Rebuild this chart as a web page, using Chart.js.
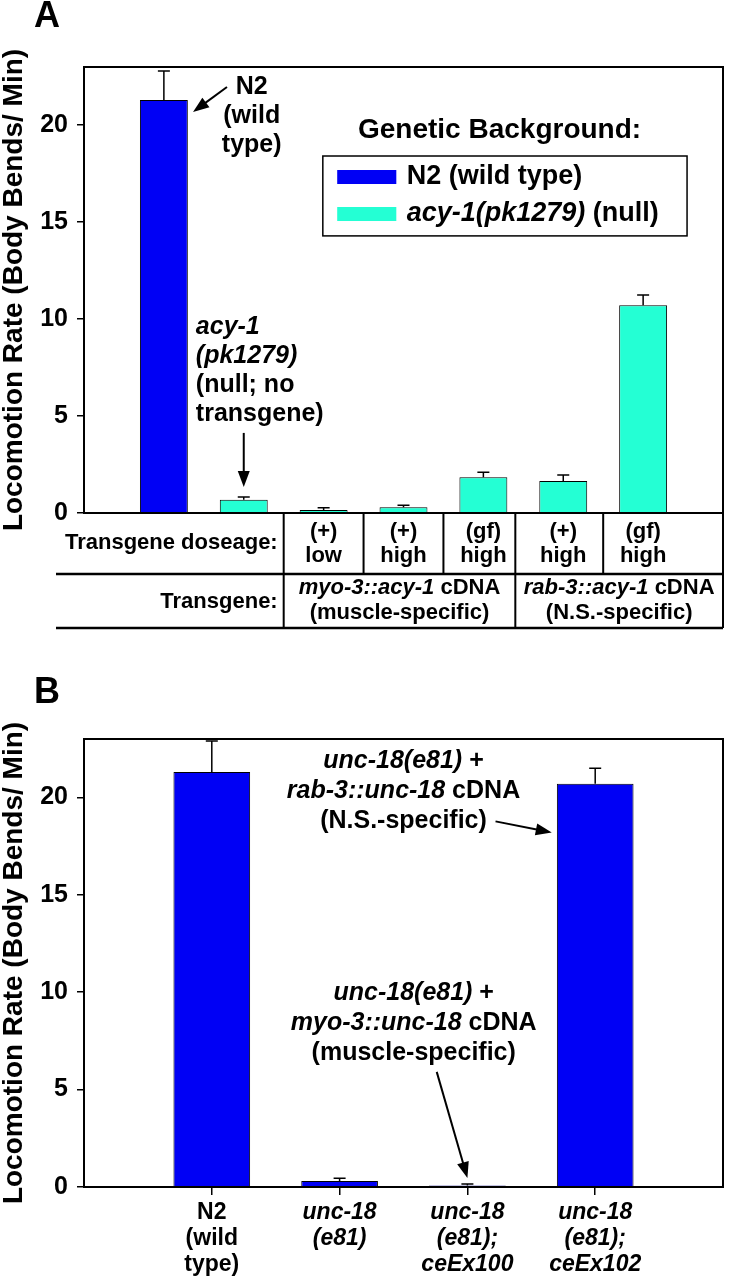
<!DOCTYPE html>
<html>
<head>
<meta charset="utf-8">
<script src="https://cdn.jsdelivr.net/npm/chart.js@4.4.1/dist/chart.umd.min.js"></script>
<style>
  body { margin: 0; background: #fff; }
  #wrap { position: relative; width: 731px; height: 1280px; }
  canvas { position: absolute; left: 0; }
  #chartA { top: 0; }
  #chartB { top: 650px; }
</style>
</head>
<body>
<div id="wrap">
  <canvas id="chartA" width="731" height="650" style="width:731px;height:650px"></canvas>
  <canvas id="chartB" width="731" height="630" style="width:731px;height:630px"></canvas>
</div>
<script>
const FONT = "'Liberation Sans', Arial, Helvetica, sans-serif";
const BLUE = '#0000f5';
const TEAL = '#24ffd4';

// --- data, panel A ---
const groupA = ['N2', 'acy', 'acy', 'acy', 'acy', 'acy', 'acy'];
const meanA = [21.3, 0.68, 0.15, 0.30, 1.85, 1.65, 10.72];
const semA = [1.5, 0.14, 0.12, 0.10, 0.25, 0.31, 0.52];
const doseTop = ['', '', '(+)', '(+)', '(gf)', '(+)', '(gf)'];
const doseBottom = ['', '', 'low', 'high', 'high', 'high', 'high'];
const transgeneName = ['myo-3::acy-1', 'rab-3::acy-1'];
const transgeneNote = ['(muscle-specific)', '(N.S.-specific)'];

// --- data, panel B ---
const meanB = [21.3, 0.31, 0.08, 20.7];
const semB = [1.6, 0.14, 0.07, 0.8];
const labelsB = [['N2', '(wild', 'type)'], ['unc-18', '(e81)'], ['unc-18', '(e81);', 'ceEx100'], ['unc-18', '(e81);', 'ceEx102']];

const yTicks = [0, 5, 10, 15, 20];
const yTitle = 'Locomotion Rate (Body Bends/ Min)';

Chart.defaults.color = '#000';
Chart.defaults.font.family = FONT;

function font(size, italic) {
  return (italic ? 'italic ' : '') + 'bold ' + size + 'px ' + FONT;
}

// draws a line made of [text, italic] pieces
function drawRuns(ctx, runs, x, y, align, size) {
  let total = 0;
  const widths = runs.map(r => {
    ctx.font = font(size, r[1]);
    const w = ctx.measureText(r[0]).width;
    total += w;
    return w;
  });
  let cx = align === 'center' ? x - total / 2 : align === 'right' ? x - total : x;
  ctx.textAlign = 'left';
  ctx.textBaseline = 'middle';
  runs.forEach((r, i) => {
    ctx.font = font(size, r[1]);
    ctx.fillText(r[0], cx, y);
    cx += widths[i];
  });
}

function arrow(ctx, x1, y1, x2, y2) {
  const a = Math.atan2(y2 - y1, x2 - x1);
  const len = 16, half = 6;
  ctx.beginPath();
  ctx.moveTo(x1, y1);
  ctx.lineTo(x2 - Math.cos(a) * len * 0.8, y2 - Math.sin(a) * len * 0.8);
  ctx.stroke();
  ctx.beginPath();
  ctx.moveTo(x2, y2);
  ctx.lineTo(x2 - Math.cos(a) * len + Math.sin(a) * half, y2 - Math.sin(a) * len - Math.cos(a) * half);
  ctx.lineTo(x2 - Math.cos(a) * len - Math.sin(a) * half, y2 - Math.sin(a) * len + Math.cos(a) * half);
  ctx.closePath();
  ctx.fill();
}

const errorBars = {
  id: 'errorBars',
  afterDatasetsDraw(chart) {
    const { ctx } = chart;
    const y = chart.scales.y;
    ctx.save();
    ctx.strokeStyle = '#000';
    ctx.lineWidth = 1.5;
    chart.data.datasets.forEach((ds, di) => {
      chart.getDatasetMeta(di).data.forEach((bar, i) => {
        const top = y.getPixelForValue(ds.data[i].y + ds.errors[i]);
        ctx.beginPath();
        ctx.moveTo(bar.x, bar.y);
        ctx.lineTo(bar.x, top);
        ctx.moveTo(bar.x - 6, top);
        ctx.lineTo(bar.x + 6, top);
        ctx.stroke();
      });
    });
    ctx.restore();
  }
};

const frame = {
  id: 'frame',
  afterDraw(chart) {
    const { ctx, chartArea: a } = chart;
    ctx.save();
    ctx.strokeStyle = '#000';
    ctx.lineWidth = 2;
    ctx.strokeRect(a.left, a.top, a.right - a.left, a.bottom - a.top);
    ctx.restore();
  }
};

// text notes and arrows placed in data units
function notes(letter, letterY, texts, arrows) {
  return {
    id: 'notes',
    afterDraw(chart) {
      const { ctx } = chart;
      const x = chart.scales.x, y = chart.scales.y;
      ctx.save();
      ctx.fillStyle = '#000';
      ctx.strokeStyle = '#000';
      ctx.lineWidth = 2;
      drawRuns(ctx, [[letter, 0]], 47, letterY, 'center', 36);
      texts.forEach(t => {
        const px = x.getPixelForValue(t.x);
        let py = y.getPixelForValue(t.y);
        t.lines.forEach(line => {
          drawRuns(ctx, line, px, py, t.align, t.size || 25);
          py += t.gap || 29;
        });
      });
      arrows.forEach(a => {
        arrow(ctx, x.getPixelForValue(a[0]), y.getPixelForValue(a[1]),
                   x.getPixelForValue(a[2]), y.getPixelForValue(a[3]));
      });
      ctx.restore();
    }
  };
}

const legendBox = {
  id: 'legendBox',
  afterDraw(chart) {
    const { ctx } = chart;
    const x = chart.scales.x, y = chart.scales.y;
    const l = x.getPixelForValue(2.99), r = x.getPixelForValue(7.55);
    const t = y.getPixelForValue(18.41), b = y.getPixelForValue(14.29);
    ctx.save();
    ctx.fillStyle = '#000';
    drawRuns(ctx, [['Genetic Background:', 0]], x.getPixelForValue(3.43), y.getPixelForValue(19.75), 'left', 28);
    ctx.strokeStyle = '#000';
    ctx.lineWidth = 1.5;
    ctx.strokeRect(l, t, r - l, b - t);
    chart.data.datasets.forEach((ds, i) => {
      const cy = t + 21 + i * 37;
      ctx.fillStyle = ds.backgroundColor;
      ctx.fillRect(x.getPixelForValue(3.17), cy - 7, x.getPixelForValue(3.91) - x.getPixelForValue(3.17), 14);
      ctx.fillStyle = '#000';
      drawRuns(ctx, ds.labelRuns, x.getPixelForValue(4.04), cy, 'left', 27);
    });
    ctx.restore();
  }
};

// transgene table under panel A
const table = {
  id: 'table',
  afterDraw(chart) {
    const { ctx, chartArea: a } = chart;
    const x = chart.scales.x;
    const edges = [2.5, 3.5, 4.5, 5.4, 6.5, 8].map(v => x.getPixelForValue(v));
    const b = a.bottom, left = a.left - 28;
    ctx.save();
    ctx.strokeStyle = '#000';
    ctx.fillStyle = '#000';
    ctx.lineWidth = 2;
    ctx.beginPath();
    edges.forEach((ex, i) => {
      const full = i === 0 || i === 3 || i === 5;
      ctx.moveTo(ex, b);
      ctx.lineTo(ex, b + (full ? 115 : 61));
    });
    ctx.stroke();
    ctx.lineWidth = 2.5;
    ctx.beginPath();
    ctx.moveTo(left, b + 61); ctx.lineTo(a.right, b + 61);
    ctx.moveTo(left, b + 115); ctx.lineTo(a.right, b + 115);
    ctx.stroke();
    drawRuns(ctx, [['Transgene doseage:', 0]], edges[0] - 6, b + 30, 'right', 22);
    drawRuns(ctx, [['Transgene:', 0]], edges[0] - 6, b + 89, 'right', 22);
    doseTop.forEach((d, i) => {
      if (!d) return;
      const cx = x.getPixelForValue(i + 1);
      drawRuns(ctx, [[d, 0]], cx, b + 19, 'center', 22);
      drawRuns(ctx, [[doseBottom[i], 0]], cx, b + 43, 'center', 22);
    });
    [[edges[0], edges[3]], [edges[3], edges[5]]].forEach((span, i) => {
      const cx = (span[0] + span[1]) / 2;
      drawRuns(ctx, [[transgeneName[i], 1], [' cDNA', 0]], cx, b + 75, 'center', 22);
      drawRuns(ctx, [[transgeneNote[i], 0]], cx, b + 100, 'center', 22);
    });
    ctx.restore();
  }
};

function yScale() {
  return {
    min: 0,
    max: 23,
    afterBuildTicks: axis => { axis.ticks = yTicks.map(v => ({ value: v })); },
    afterFit: axis => { axis.width = 84; },
    ticks: { font: { size: 25, weight: 'bold' }, padding: 9, color: '#000' },
    grid: { drawOnChartArea: false, tickLength: 7, color: '#000', lineWidth: 1.5 },
    border: { display: false },
    title: {
      display: true,
      text: yTitle,
      font: { size: 28, weight: 'bold', lineHeight: 1 },
      padding: 0,
      color: '#000'
    }
  };
}

// --- panel A ---
const n2A = [], acyA = [], n2ErrA = [], acyErrA = [];
meanA.forEach((v, i) => {
  if (groupA[i] === 'N2') { n2A.push({ x: i + 1, y: v }); n2ErrA.push(semA[i]); }
  else { acyA.push({ x: i + 1, y: v }); acyErrA.push(semA[i]); }
});

new Chart(document.getElementById('chartA'), {
  type: 'bar',
  data: {
    datasets: [
      { label: 'N2 (wild type)', labelRuns: [['N2 (wild type)', 0]], data: n2A, errors: n2ErrA,
        backgroundColor: BLUE, borderColor: '#000', borderWidth: 1 },
      { label: 'acy-1(pk1279) (null)', labelRuns: [['acy-1(pk1279)', 1], [' (null)', 0]], data: acyA, errors: acyErrA,
        backgroundColor: TEAL, borderColor: '#000', borderWidth: 1 }
    ]
  },
  options: {
    responsive: false,
    animation: false,
    grouped: false,
    categoryPercentage: 1,
    barPercentage: 0.6,
    layout: { padding: { top: 67, right: 8, bottom: 137, left: 0 } },
    plugins: { legend: { display: false }, tooltip: { enabled: false } },
    scales: {
      x: { type: 'linear', min: 0, max: 8, offset: false, display: false },
      y: yScale()
    }
  },
  plugins: [errorBars, frame, legendBox, table, notes('A', 17, [
    { x: 2.10, y: 21.97, align: 'center', lines: [[['N2', 0]], [['(wild', 0]], [['type)', 0]]] },
    { x: 1.40, y: 9.59, align: 'left', lines: [[['acy-1', 1]], [['(pk1279)', 1]], [['(null; no', 0]], [['transgene)', 0]]] }
  ], [
    [1.79, 21.97, 1.365, 20.68],
    [2.0, 4.13, 2.0, 1.34]
  ])]
});

// --- panel B ---
new Chart(document.getElementById('chartB'), {
  type: 'bar',
  data: {
    datasets: [{
      label: 'Locomotion rate',
      data: meanB.map((v, i) => ({ x: i + 1, y: v })),
      errors: semB,
      backgroundColor: BLUE,
      borderColor: '#000',
      borderWidth: 1
    }]
  },
  options: {
    responsive: false,
    animation: false,
    categoryPercentage: 1,
    barPercentage: 0.6,
    layout: { padding: { top: 89, right: 8, bottom: 0, left: 0 } },
    plugins: { legend: { display: false }, tooltip: { enabled: false } },
    scales: {
      x: {
        type: 'linear', min: 0, max: 5, offset: false,
        afterBuildTicks: axis => { axis.ticks = labelsB.map((l, i) => ({ value: i + 1 })); },
        afterFit: axis => { axis.height = 93; },
        ticks: {
          callback: v => labelsB[v - 1],
          padding: 5,
          maxRotation: 0,
          autoSkip: false,
          color: '#000',
          font: c => ({ size: 23, weight: 'bold', style: c.index === 0 ? 'normal' : 'italic', lineHeight: 1.13 })
        },
        grid: { offset: false, drawOnChartArea: false, tickLength: 8, color: '#000', lineWidth: 1.5 },
        border: { display: false }
      },
      y: yScale()
    }
  },
  plugins: [errorBars, frame, notes('B', 43, [
    { x: 2.5, y: 21.85, align: 'center', gap: 30,
      lines: [[['unc-18(e81)', 1], [' +', 0]], [['rab-3::unc-18', 1], [' cDNA', 0]], [['(N.S.-specific)', 0]]] },
    { x: 2.58, y: 9.97, align: 'center', gap: 30,
      lines: [[['unc-18(e81)', 1], [' +', 0]], [['myo-3::unc-18', 1], [' cDNA', 0]], [['(muscle-specific)', 0]]] }
  ], [
    [3.22, 18.77, 3.66, 18.2],
    [2.76, 5.91, 3.0, 0.46]
  ])]
});
</script>
</body>
</html>
